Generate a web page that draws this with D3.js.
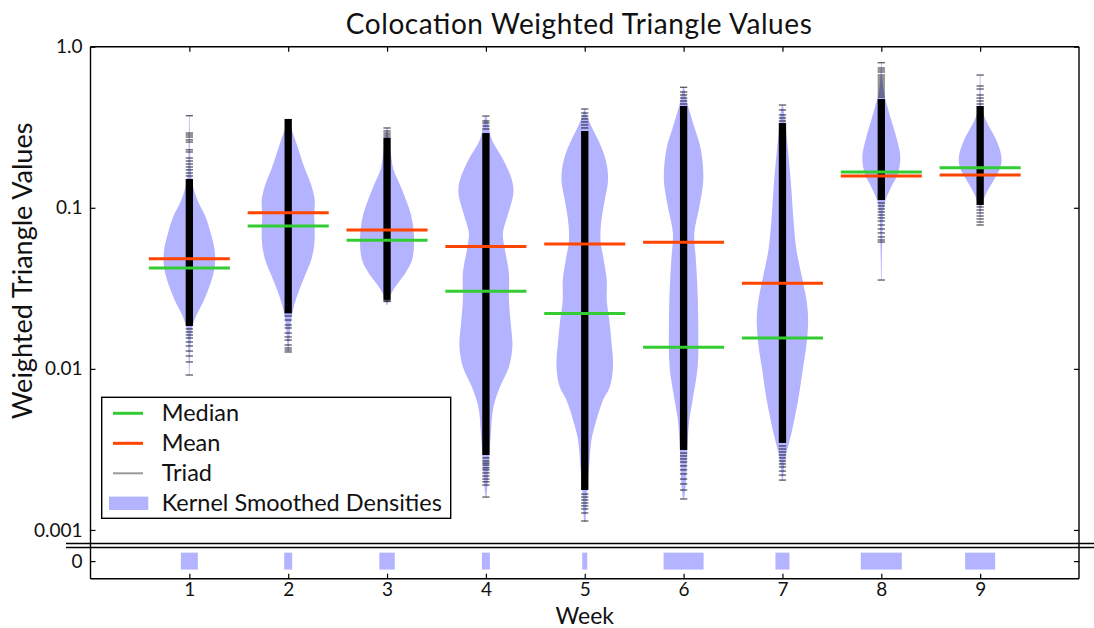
<!DOCTYPE html>
<html>
<head>
<meta charset="utf-8">
<script src="https://cdn.jsdelivr.net/npm/d3@7"></script>
<style>
  html, body { margin: 0; padding: 0; background: #fff; }
  svg { display: block; }
  text { font-family: Lato, "Open Sans", sans-serif; fill: #111; }
</style>
</head>
<body>
<svg id="chart" width="1094" height="628"></svg>
<script>
// ---- data ---------------------------------------------------------------
const weeks = [1, 2, 3, 4, 5, 6, 7, 8, 9];
const weekLabels = ["1", "2", "3", "4", "5", "6", "7", "8", "9"];
const yTickValues = [0.001, 0.01, 0.1, 1.0];
const yTickLabels = ["0.001", "0.01", "0.1", "1.0"];
const zeroTickLabels = ["0"];

const medians = [0.0423, 0.0771, 0.0628, 0.0303, 0.0221, 0.0136, 0.01555, 0.1668, 0.1774];
const means   = [0.0483, 0.0932, 0.0728, 0.0574, 0.0596, 0.0610, 0.0340, 0.1575, 0.1600];

// relative density of triads with value 0, per week
const zeroDensity = [0.85, 0.4, 0.77, 0.4, 0.25, 2.0, 0.7, 2.05, 1.5];

// kernel smoothed densities: [value, density]
const kde1 = [[0.377,0.03],[0.229,0.08],[0.172,0.15],[0.1426,0.3],[0.1117,0.8],[0.0877,1.63],[0.0698,2.13],[0.0547,2.53],[0.0429,2.53],[0.0341,2.13],[0.0268,1.47],[0.0210,0.63],[0.0182,0.3],[0.0151,0.15],[0.00916,0.03]];
const kde2 = [[0.356,0.05],[0.327,0.2],[0.264,0.7],[0.213,1.2],[0.172,1.7],[0.1385,2.3],[0.1117,2.65],[0.0902,2.6],[0.0728,2.65],[0.0588,2.6],[0.0474,2.3],[0.0383,1.7],[0.0309,1.1],[0.0249,0.6],[0.0201,0.3],[0.01623,0.15],[0.01273,0.05]];
const kde3 = [[0.313,0.05],[0.264,0.2],[0.213,0.4],[0.172,0.65],[0.1385,1.3],[0.1117,1.9],[0.0902,2.4],[0.0728,2.65],[0.0588,2.7],[0.0474,2.5],[0.0400,1.9],[0.0341,1.1],[0.0300,0.5],[0.0268,0.15],[0.0249,0.05]];
const kde4 = [[0.371,0.05],[0.341,0.2],[0.264,0.6],[0.198,1.75],[0.1488,2.6],[0.1236,2.75],[0.0929,2.25],[0.0698,1.7],[0.0571,1.85],[0.0394,2.3],[0.0268,2.3],[0.01873,2.5],[0.01387,2.65],[0.01027,2.3],[0.00772,1.4],[0.0058,0.75],[0.0040,0.5],[0.00284,0.33],[0.00204,0.2],[0.0016,0.05]];
const kde5 = [[0.4105,0.05],[0.377,0.2],[0.327,0.6],[0.264,1.33],[0.198,2.1],[0.1488,2.33],[0.1117,2.0],[0.0840,1.67],[0.0631,1.57],[0.0474,1.9],[0.0356,2.2],[0.0268,2.2],[0.0201,2.45],[0.0151,2.65],[0.01042,2.83],[0.00772,2.5],[0.00641,1.83],[0.00482,1.17],[0.00362,0.67],[0.00246,0.43],[0.0017,0.23],[0.001275,0.13],[0.00112,0.05]];
const kde6 = [[0.562,0.05],[0.5015,0.2],[0.422,0.47],[0.3174,1.07],[0.229,1.73],[0.1488,1.97],[0.1012,1.57],[0.0698,1.07],[0.0474,1.23],[0.0296,1.4],[0.0167,1.47],[0.01027,1.4],[0.00641,0.9],[0.00482,0.57],[0.00347,0.4],[0.00246,0.3],[0.00185,0.2],[0.001557,0.05]];
const kde7 = [[0.4346,0.05],[0.377,0.2],[0.283,0.4],[0.198,0.65],[0.129,0.9],[0.0840,1.1],[0.0547,1.4],[0.0383,1.9],[0.0268,2.4],[0.0201,2.57],[0.01407,2.4],[0.01027,2.07],[0.00641,1.57],[0.0040,0.9],[0.0030,0.4],[0.00246,0.17],[0.00201,0.05]];
const kde8 = [[0.803,0.03],[0.6215,0.1],[0.5015,0.3],[0.467,0.43],[0.3508,1.0],[0.264,1.57],[0.2067,1.9],[0.1644,1.67],[0.1346,1.0],[0.1117,0.43],[0.0929,0.2],[0.0631,0.1],[0.0461,0.05],[0.0356,0.03]];
const kde9 = [[0.667,0.03],[0.467,0.1],[0.4047,0.2],[0.336,0.7],[0.264,1.6],[0.2067,2.13],[0.1792,2.03],[0.1488,1.37],[0.1236,0.63],[0.1071,0.23],[0.0969,0.1],[0.0782,0.03]];
const kdeProfiles = [kde1, kde2, kde3, kde4, kde5, kde6, kde7, kde8, kde9];

// triads: the dense run of values [high, low] and the sparse values outside it
const triadCore = [[0.151, 0.01846],[0.356, 0.0221],[0.2713, 0.0268],[0.291, 0.00292],[0.2997, 0.00177],[0.4284, 0.003138],[0.336, 0.00347],[0.4734, 0.1117],[0.4284, 0.1041]];
const triadTails = [
  [0.373,0.291,0.283,0.275,0.264,0.256,0.229,0.222,0.2038,0.1952,0.187,0.1792,0.172,0.1644,0.1576,0.01771,0.01694,0.01623,0.01555,0.01469,0.01387,0.0129,0.01202,0.01104,0.00916],
  [0.0213,0.0201,0.01873,0.01794,0.0167,0.01578,0.0151,0.01407,0.01348,0.0131,0.01273],
  [0.313,0.2997,0.291,0.283,0.275,0.0265,0.0262],
  [0.371,0.3457,0.336,0.322,0.3084,0.0028,0.00268,0.0026,0.00253,0.00243,0.00236,0.00226,0.00216,0.00207,0.00199,0.0019,0.0016],
  [0.4105,0.3877,0.371,0.356,0.341,0.327,0.313,0.00167,0.0016,0.001535,0.00147,0.00141,0.00135,0.001275,0.001137],
  [0.5597,0.5235,0.5015,0.4802,0.4602,0.4409,0.0030,0.00288,0.00276,0.00264,0.0025,0.00236,0.002227,0.00207,0.00193,0.00177,0.001557],
  [0.4346,0.4047,0.377,0.3609,0.3457,0.00332,0.00318,0.00305,0.00292,0.0028,0.00268,0.00257,0.00246,0.00232,0.00219,0.00204],
  [0.7956,0.7376,0.7168,0.6966,0.667,0.6484,0.6301,0.6124,0.5951,0.5784,0.562,0.5462,0.5309,0.5159,0.5015,0.4872,0.1071,0.1026,0.0983,0.0942,0.0902,0.0865,0.0828,0.0782,0.0738,0.0698,0.0659,0.0631,0.0613,0.0356],
  [0.667,0.5702,0.5462,0.5015,0.4802,0.4602,0.4409,0.1012,0.0969,0.0929,0.0889,0.0852,0.0816,0.0782]
];

const legendLabels = ["Median", "Mean", "Triad", "Kernel Smoothed Densities"];

(function draw() {
  // ---- styles -----------------------------------------------------------
  const BEAN = "#b3b3ff";
  const MEDIAN = "#33cc33";
  const MEAN = "#ff4500";

  // ---- layout -----------------------------------------------------------
  const pLeft = 90.5, pRight = 1079, pTop = 46.7, mainBottom = 543.5, zeroTop = 547.5, pBottom = 578.7;

  const svg = d3.select("#chart");

  const x = d3.scaleLinear().domain([0, 10]).range([pLeft, pRight]);
  const y = d3.scaleLog().domain([0.000824, 1]).range([mainBottom, pTop]);
  const yZero = d3.scaleLinear().domain([-1, 1]).range([pBottom, mainBottom]);
  // density units -> week units
  const w = d3.scaleLinear().domain([0, 1]).range([0, 10 / 98.85]);
  const tickHalf = 0.037;   // half length of a triad mark, in weeks
  const statHalf = 0.41;    // half length of mean / median bars, in weeks

  // ---- violins ----------------------------------------------------------
  weeks.forEach((wk, i) => {
    const area = d3.area()
      .curve(d3.curveCatmullRom.alpha(0.5))
      .y(d => y(d[0]))
      .x0(d => x(wk - w(d[1])))
      .x1(d => x(wk + w(d[1])));
    svg.append("path")
      .attr("d", area(kdeProfiles[i]))
      .attr("fill", BEAN);
  });

  // ---- triad marks ------------------------------------------------------
  weeks.forEach((wk, i) => {
    const [hi, lo] = triadCore[i];
    svg.append("rect")
      .attr("x", x(wk - tickHalf))
      .attr("width", x(wk + tickHalf) - x(wk - tickHalf))
      .attr("y", y(hi))
      .attr("height", y(lo) - y(hi))
      .attr("fill", "#000");
    svg.append("g").selectAll("line")
      .data(triadTails[i])
      .join("line")
      .attr("x1", x(wk - tickHalf))
      .attr("x2", x(wk + tickHalf))
      .attr("y1", d => y(d))
      .attr("y2", d => y(d))
      .attr("stroke", "#000")
      .attr("stroke-opacity", 0.6)
      .attr("stroke-width", 1.4);
  });

  // ---- mean / median bars -----------------------------------------------
  function statLines(values, color) {
    svg.append("g").selectAll("line")
      .data(values)
      .join("line")
      .attr("x1", (d, i) => x(weeks[i] - statHalf))
      .attr("x2", (d, i) => x(weeks[i] + statHalf))
      .attr("y1", d => y(d))
      .attr("y2", d => y(d))
      .attr("stroke", color)
      .attr("stroke-width", 3);
  }
  statLines(medians, MEDIAN);
  statLines(means, MEAN);

  // ---- zero panel -------------------------------------------------------
  svg.append("g").selectAll("rect")
    .data(zeroDensity)
    .join("rect")
    .attr("x", (d, i) => x(weeks[i] - w(d)))
    .attr("width", (d, i) => x(weeks[i] + w(d)) - x(weeks[i] - w(d)))
    .attr("y", yZero(0.48))
    .attr("height", yZero(-0.48) - yZero(0.48))
    .attr("fill", BEAN);

  // ---- axes -------------------------------------------------------------
  const tickFont = 19;
  function styleAxis(g) {
    g.select(".domain").remove();
    g.selectAll(".tick line").attr("stroke", "#000").attr("stroke-width", 1.2);
    g.selectAll(".tick text")
      .attr("font-size", tickFont)
      .attr("font-family", "Lato, 'Open Sans', sans-serif")
      .attr("fill", "#111");
  }

  svg.append("g")
    .attr("transform", `translate(${pLeft},0)`)
    .call(d3.axisLeft(y).tickValues(yTickValues)
      .tickFormat((d, i) => yTickLabels[i]).tickSize(-5).tickPadding(8))
    .call(styleAxis);

  svg.append("g")
    .attr("transform", `translate(${pRight},0)`)
    .call(d3.axisRight(y).tickValues(yTickValues).tickFormat("").tickSize(-5))
    .call(styleAxis);

  svg.append("g")
    .attr("transform", `translate(${pLeft},0)`)
    .call(d3.axisLeft(yZero).tickValues([0])
      .tickFormat((d, i) => zeroTickLabels[i]).tickSize(-5).tickPadding(8))
    .call(styleAxis);

  svg.append("g")
    .attr("transform", `translate(${pRight},0)`)
    .call(d3.axisRight(yZero).tickValues([0]).tickFormat("").tickSize(-5))
    .call(styleAxis);

  svg.append("g")
    .attr("transform", `translate(0,${pTop})`)
    .call(d3.axisTop(x).tickValues(weeks).tickFormat("").tickSize(-5))
    .call(styleAxis);

  svg.append("g")
    .attr("transform", `translate(0,${pBottom})`)
    .call(d3.axisBottom(x).tickValues(weeks)
      .tickFormat((d, i) => weekLabels[i]).tickSize(-5).tickPadding(4))
    .call(styleAxis);

  // frame
  const frame = svg.append("g").attr("stroke", "#000").attr("stroke-width", 1.4).attr("fill", "none");
  frame.append("line").attr("x1", pLeft).attr("x2", pRight).attr("y1", pTop).attr("y2", pTop);
  frame.append("line").attr("x1", pLeft).attr("x2", pRight).attr("y1", pBottom).attr("y2", pBottom);
  frame.append("line").attr("x1", pLeft).attr("x2", pLeft).attr("y1", pTop).attr("y2", pBottom);
  frame.append("line").attr("x1", pRight).attr("x2", pRight).attr("y1", pTop).attr("y2", pBottom);
  // axis break
  frame.append("line").attr("x1", 66).attr("x2", 1094).attr("y1", mainBottom).attr("y2", mainBottom);
  frame.append("line").attr("x1", 66).attr("x2", 1094).attr("y1", zeroTop).attr("y2", zeroTop);

  // ---- titles -----------------------------------------------------------
  svg.append("text")
    .attr("x", (pLeft + pRight) / 2 - 6).attr("y", 34)
    .attr("text-anchor", "middle")
    .attr("font-size", 28)
    .attr("textLength", 466)
    .attr("lengthAdjust", "spacing")
    .text("Colocation Weighted Triangle Values");

  svg.append("text")
    .attr("transform", `translate(32,271) rotate(-90)`)
    .attr("text-anchor", "middle")
    .attr("font-size", 27)
    .text("Weighted Triangle Values");

  svg.append("text")
    .attr("x", (pLeft + pRight) / 2).attr("y", 623.5)
    .attr("text-anchor", "middle")
    .attr("font-size", 23)
    .text("Week");

  // ---- legend -----------------------------------------------------------
  const lg = svg.append("g");
  lg.append("rect")
    .attr("x", 101.7).attr("y", 397.3)
    .attr("width", 349).attr("height", 121)
    .attr("fill", "#fff").attr("stroke", "#000").attr("stroke-width", 1.4);

  const legendRows = [413.3, 443.3, 473.3, 503.3];
  const legendSwatch = [
    g => g.append("line").attr("x1", 113).attr("x2", 143).attr("stroke", MEDIAN).attr("stroke-width", 3),
    g => g.append("line").attr("x1", 113).attr("x2", 143).attr("stroke", MEAN).attr("stroke-width", 3),
    g => g.append("line").attr("x1", 113).attr("x2", 143).attr("stroke", "#000").attr("stroke-opacity", 0.4).attr("stroke-width", 2),
    g => g.append("rect").attr("x", 109).attr("y", -6.7).attr("width", 39.3).attr("height", 13.4).attr("fill", BEAN)
  ];
  legendLabels.forEach((lab, i) => {
    const row = lg.append("g").attr("transform", `translate(0,${legendRows[i]})`);
    legendSwatch[i](row);
    row.append("text")
      .attr("x", 161.7).attr("y", 8)
      .attr("font-size", 23.5)
      .text(lab);
  });
})();
</script>
</body>
</html>
